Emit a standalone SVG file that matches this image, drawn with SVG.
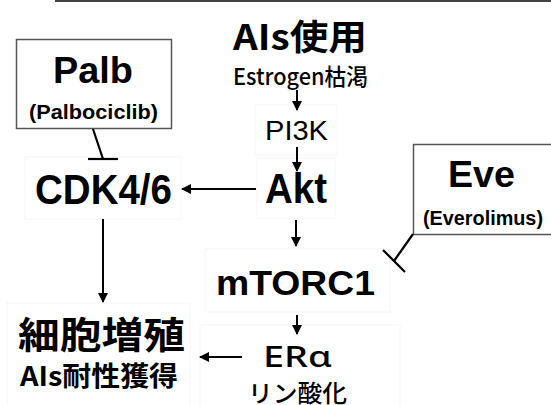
<svg xmlns="http://www.w3.org/2000/svg" width="551" height="405" viewBox="0 0 551 405">
<defs>
<style>
.lat{font-family:"Liberation Sans",Arial,sans-serif;font-weight:bold;fill:#000}
.reg{font-family:"Liberation Sans",Arial,sans-serif;font-weight:normal;fill:#000}
.jp{font-family:"Noto Sans CJK JP","Noto Sans CJK SC",sans-serif;fill:#000}
.box{fill:#fff;stroke:#555;stroke-width:1.5}
.faint{fill:none;stroke:#f6f6f6;stroke-width:1}
.con{stroke:#000;stroke-width:2.2;fill:none}
.arr{stroke:#000;stroke-width:2;fill:none;marker-end:url(#ah)}
</style>
<marker id="ah" viewBox="0 0 10 10" refX="9" refY="5" markerWidth="5" markerHeight="5" markerUnits="strokeWidth" orient="auto">
<path d="M0,0 L10,5 L0,10 Z" fill="#000"/>
</marker>
</defs>
<rect width="551" height="405" fill="#fff"/>
<line x1="55" y1="1" x2="551" y2="1" stroke="#444" stroke-width="2"/>

<g id="ais">
<text class="jp" x="233" y="50" font-size="35" font-weight="bold" textLength="134" lengthAdjust="spacingAndGlyphs">AIs使用</text>
<text class="jp" x="233" y="85" font-size="23" font-weight="500" textLength="135" lengthAdjust="spacingAndGlyphs">Estrogen枯渇</text>
</g>
<g id="pi3k">
<rect class="faint" x="255" y="105" width="82" height="50"/>
<text class="reg" x="265" y="140" font-size="28" textLength="63" lengthAdjust="spacingAndGlyphs">PI3K</text>
</g>
<g id="akt">
<rect class="faint" x="257" y="158" width="78" height="60"/>
<text class="lat" x="265" y="203" font-size="42" textLength="62" lengthAdjust="spacingAndGlyphs">Akt</text>
</g>
<g id="cdk">
<rect class="faint" x="25" y="157" width="156" height="62"/>
<text class="lat" x="35" y="204" font-size="43" textLength="137" lengthAdjust="spacingAndGlyphs">CDK4/6</text>
</g>
<g id="palb">
<rect class="box" x="16.5" y="39.5" width="155" height="89"/>
<text class="lat" x="53" y="83" font-size="37" textLength="80" lengthAdjust="spacingAndGlyphs">Palb</text>
<text class="lat" x="29" y="119" font-size="21" textLength="129" lengthAdjust="spacingAndGlyphs">(Palbociclib)</text>
</g>
<g id="eve">
<rect class="box" x="413.5" y="144.5" width="140" height="90"/>
<text class="lat" x="448" y="187" font-size="37" textLength="67" lengthAdjust="spacingAndGlyphs">Eve</text>
<text class="lat" x="423" y="225" font-size="20" textLength="120" lengthAdjust="spacingAndGlyphs">(Everolimus)</text>
</g>
<g id="mtorc1">
<rect class="faint" x="205" y="249" width="185" height="63"/>
<text class="lat" x="216" y="295" font-size="35" textLength="159" lengthAdjust="spacingAndGlyphs">mTORC1</text>
</g>
<g id="era">
<rect class="faint" x="200" y="325" width="200" height="85"/>
<text x="263" y="367" font-family="'Noto Sans','DejaVu Sans',sans-serif" font-size="29" font-weight="500" textLength="69" lengthAdjust="spacingAndGlyphs">ERα</text>
<text class="jp" x="248" y="402" font-size="24" font-weight="500" textLength="99" lengthAdjust="spacingAndGlyphs">リン酸化</text>
</g>
<g id="prolif">
<rect class="faint" x="7" y="303" width="183" height="110"/>
<text class="jp" x="18" y="349" font-size="37" font-weight="bold" textLength="167" lengthAdjust="spacingAndGlyphs">細胞増殖</text>
<text class="jp" x="20" y="386" font-size="27" font-weight="bold" textLength="158" lengthAdjust="spacingAndGlyphs">AIs耐性獲得</text>
</g>

<g id="connectors">
<line class="arr" x1="297" y1="90" x2="297" y2="110"/>
<line class="arr" x1="297" y1="147" x2="297" y2="171"/>
<line class="arr" x1="296" y1="220" x2="296" y2="246"/>
<line class="arr" x1="256" y1="189" x2="182" y2="189"/>
<line class="arr" x1="103" y1="219" x2="103" y2="302"/>
<line class="arr" x1="297" y1="315" x2="297" y2="334"/>
<line class="arr" x1="242" y1="357" x2="200" y2="357"/>
<line class="con" x1="93" y1="129" x2="103" y2="159"/>
<line class="con" x1="88" y1="159" x2="118" y2="159"/>
<line class="con" x1="413" y1="234" x2="394" y2="261"/>
<line class="con" x1="383" y1="250" x2="405" y2="272"/>
</g>
</svg>
